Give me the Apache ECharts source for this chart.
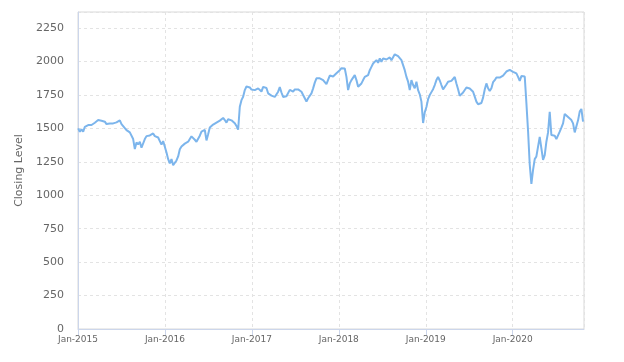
<!DOCTYPE html>
<html>
<head>
<meta charset="utf-8">
<script src="https://cdn.jsdelivr.net/npm/echarts@6/dist/echarts.min.js"></script>
<style>
html,body{margin:0;padding:0;background:#fff;}
#chart{width:624px;height:362px;}
</style>
</head>
<body>
<div id="chart"></div>
<script>
// Weekly closing levels (Fridays), first week = 2015-01-02
const firstWeek = '2015-01-02';
const close2015 = [
  1500, 1475, 1492, 1475, 1512, 1520, 1525, 1530, 1525, 1512,
  1542, 1555, 1562, 1562, 1557, 1552, 1550, 1532, 1522, 1537,
  1532, 1537, 1537, 1545, 1557, 1560, 1532, 1517, 1507, 1487,
  1482, 1470, 1457, 1420, 1345, 1395, 1380, 1400, 1355, 1365,
  1420, 1442, 1432, 1447, 1455, 1462, 1442, 1450, 1432, 1405,
  1378, 1405
];
const close2016 = [
  1400, 1320, 1270, 1238, 1270, 1225, 1220, 1260, 1290, 1344,
  1365, 1370, 1386, 1384, 1400, 1420, 1440, 1433, 1415, 1400,
  1410, 1445, 1475, 1470, 1488, 1410, 1456, 1506, 1518, 1528,
  1536, 1543, 1553, 1558, 1568, 1578, 1562, 1543, 1568, 1571,
  1560, 1546, 1538, 1518, 1490, 1662, 1711, 1736, 1786, 1813,
  1803, 1806, 1790
];
const close2017 = [
  1795, 1786, 1778, 1799, 1792, 1775, 1810, 1816, 1802, 1762,
  1760, 1745, 1740, 1735, 1742, 1774, 1808, 1768, 1735, 1735,
  1740, 1750, 1788, 1781, 1775, 1791, 1778, 1791, 1799, 1774,
  1749, 1725, 1700, 1725, 1730, 1762, 1799, 1842, 1874, 1884,
  1874, 1872, 1861, 1849, 1830, 1825, 1895, 1888, 1888, 1900,
  1912, 1920
];
const close2018 = [
  1935, 1950, 1960, 1948, 1885, 1786, 1836, 1861, 1849, 1898,
  1861, 1811, 1799, 1836, 1861, 1885, 1873, 1898, 1935, 1960,
  1985, 1998, 2010, 1990, 2023, 1998, 2023, 2010, 2015, 2005,
  2030, 2010, 2023, 2054, 2047, 2040, 2030, 2010, 1973, 1935,
  1885, 1849, 1786, 1861, 1824, 1799, 1849, 1786, 1755, 1700,
  1540, 1620
];
const close2019 = [
  1660, 1718, 1749, 1771, 1793, 1824, 1861, 1884, 1858, 1824,
  1792, 1786, 1828, 1848, 1852, 1855, 1860, 1884, 1836, 1792,
  1743, 1733, 1768, 1787, 1805, 1800, 1798, 1798, 1774, 1737,
  1700, 1680, 1670, 1690, 1730, 1790, 1836, 1800, 1780, 1800,
  1845, 1860, 1880, 1870, 1880, 1890, 1895, 1905, 1925, 1935,
  1937, 1925
];
const close2020 = [
  1923, 1935, 1911, 1885, 1855, 1891, 1885, 1888, 1690, 1480,
  1230, 1085, 1190, 1270, 1290, 1300, 1437, 1350, 1265, 1300,
  1400, 1470, 1624, 1450, 1440, 1445, 1420, 1430, 1475, 1505,
  1537, 1608, 1605, 1585, 1595, 1562, 1537, 1470, 1480, 1560,
  1625, 1645, 1550
];
const yTitle = 'Closing Level';
const monthLabel = 'Jan';

const DAY = 86400000;
const YEAR = 365.25 * DAY;
const allValues = [].concat(close2015, close2016, close2017, close2018, close2019, close2020);
const t0 = new Date(firstWeek + 'T00:00:00Z').getTime();
const seriesData = allValues.map((v, i) => [t0 + i * 7 * DAY, v]);

const chart = echarts.init(document.getElementById('chart'), null, {renderer: 'canvas'});
const font = 'DejaVu Sans';
chart.setOption({
  animation: false,
  backgroundColor: '#ffffff',
  grid: {left: 78, right: 40, top: 12, bottom: 33, show: true, borderColor: '#d9d9d9', borderWidth: 1},
  xAxis: {
    type: 'value',
    min: 45 * YEAR,
    max: Date.UTC(2020, 9, 27),
    interval: YEAR,
    axisLine: {show: true, lineStyle: {color: '#ccd6eb', width: 1}},
    axisTick: {show: true, length: 7, lineStyle: {color: '#ccd6eb'}},
    axisLabel: {
      color: '#666666', fontFamily: font, fontSize: 9, margin: 6,
      showMaxLabel: false,
      formatter: function (v) { return monthLabel + '-' + new Date(v + 2 * DAY).getUTCFullYear(); }
    },
    splitLine: {show: true, lineStyle: {color: '#e3e3e3', type: [3, 3], width: 1}}
  },
  yAxis: {
    type: 'value',
    min: 0, max: 2370, interval: 250,
    name: yTitle, nameLocation: 'middle', nameGap: 41,
    nameTextStyle: {color: '#666666', fontFamily: font, fontSize: 11},
    axisLine: {show: true, lineStyle: {color: '#ccd6eb'}},
    axisTick: {show: false},
    axisLabel: {
      color: '#666666', fontFamily: font, fontSize: 11, margin: 14, showMaxLabel: false,
      formatter: function (v) { return String(v); }
    },
    splitLine: {show: true, lineStyle: {color: '#e3e3e3', type: [3, 3], width: 1}}
  },
  series: [{
    type: 'line',
    data: seriesData,
    showSymbol: false,
    symbol: 'none',
    lineStyle: {color: '#7cb5ec', width: 2},
    itemStyle: {color: '#7cb5ec'}
  }]
});
</script>
</body>
</html>
